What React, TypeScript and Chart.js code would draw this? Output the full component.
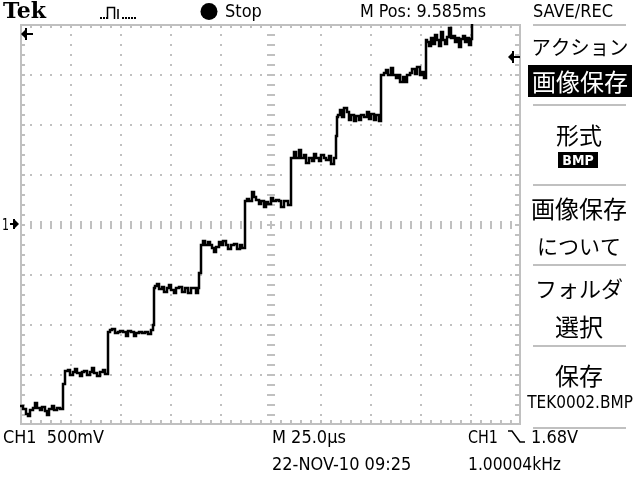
import React, { useEffect, useRef } from "react";
import { Chart, registerables } from "chart.js";

Chart.register(...registerables);

// Oscilloscope settings: 25 µs/div horizontally (10 div), 500 mV/div vertically (8 div)
const X_MIN_US = 0;
const X_MAX_US = 250;
const Y_MIN_V = -2;
const Y_MAX_V = 2;
const MINOR_X_US = 5;
const MINOR_Y_V = 0.1;
const MAJOR_EVERY = 5; // 5 minor ticks per division

// Trace samples [time µs, volts] for each stair step
const step1 = [[0, -1.82], [1.5, -1.85], [3, -1.9], [4, -1.92], [5, -1.86], [6.5, -1.84], [7.5, -1.79], [8.5, -1.84], [10, -1.86], [11, -1.83], [12.5, -1.87], [13.5, -1.91], [14.5, -1.85], [16, -1.82], [17, -1.86], [18.5, -1.84], [20, -1.85], [21.5, -1.6]];
const step2 = [[22.5, -1.47], [24, -1.46], [25, -1.51], [26.5, -1.48], [27.5, -1.45], [28.5, -1.49], [30, -1.52], [31, -1.48], [32, -1.47], [33.5, -1.51], [35, -1.48], [36, -1.44], [37, -1.49], [38.5, -1.52], [40, -1.48], [41.5, -1.46], [42.5, -1.5], [44, -1.08]];
const step3 = [[45, -1.06], [46, -1.05], [47.5, -1.09], [49, -1.08], [50, -1.07], [51.5, -1.08], [53, -1.12], [54, -1.07], [55.5, -1.08], [57, -1.12], [58, -1.09], [59.5, -1.08], [61, -1.09], [62.5, -1.08], [64, -1.1], [65.5, -1.06], [66.5, -1.01], [67, -0.64]];
const step4 = [[67.5, -0.62], [68.5, -0.6], [69.5, -0.65], [71, -0.63], [72, -0.68], [73.5, -0.64], [74.5, -0.61], [75.5, -0.66], [77, -0.69], [78, -0.64], [79.5, -0.63], [81, -0.68], [82.5, -0.64], [84, -0.69], [85.5, -0.64], [86.5, -0.64], [88, -0.69], [89, -0.64], [89.5, -0.49], [90.5, -0.21]];
const step5 = [[91.5, -0.17], [92.5, -0.21], [94, -0.18], [95, -0.21], [96, -0.24], [97, -0.28], [98, -0.23], [99.5, -0.18], [100.5, -0.21], [101.5, -0.17], [103, -0.21], [104, -0.25], [105.5, -0.21], [107, -0.2], [108.5, -0.25], [110, -0.21], [111, -0.24], [112.5, 0.23]];
const step6 = [[113.5, 0.25], [114.5, 0.23], [116, 0.32], [117, 0.27], [118, 0.24], [119.5, 0.2], [120.5, 0.23], [122, 0.17], [123, 0.22], [124, 0.2], [125.5, 0.26], [126.5, 0.23], [128, 0.24], [129.5, 0.23], [130.5, 0.17], [132, 0.23], [133, 0.23], [134, 0.19], [135.5, 0.66]];
const step7 = [[136, 0.66], [137, 0.72], [138, 0.66], [139.5, 0.74], [140.5, 0.66], [142, 0.69], [143, 0.61], [144.5, 0.66], [146, 0.63], [147, 0.7], [148, 0.66], [149.5, 0.63], [150.5, 0.69], [152, 0.66], [153, 0.64], [154.5, 0.68], [155.5, 0.6], [157, 0.66], [158, 0.88], [158.5, 1.07]];
const step8 = [[159, 1.09], [160, 1.14], [161, 1.07], [162, 1.16], [163.5, 1.12], [164.5, 1.04], [165.5, 1.09], [167, 1.03], [168, 1.08], [169.5, 1.04], [170.5, 1.09], [172, 1.07], [173.5, 1.12], [174.5, 1.05], [175.5, 1.1], [177, 1.04], [178, 1.09], [179.5, 1.03], [180.5, 1.49]];
const step9 = [[181, 1.49], [182, 1.51], [183, 1.54], [184, 1.49], [185.5, 1.56], [186.5, 1.49], [188, 1.46], [189, 1.49], [190, 1.42], [191.5, 1.47], [192.5, 1.42], [193.5, 1.49], [195, 1.51], [196, 1.55], [197.5, 1.5], [198.5, 1.57], [200, 1.49], [201, 1.52], [202, 1.46], [203, 1.84]];
const step10 = [[203.5, 1.82], [204.5, 1.78], [205.5, 1.86], [206.5, 1.8], [207.5, 1.89], [208.5, 1.84], [209.5, 1.78], [210.5, 1.92], [211.5, 1.84], [212.5, 1.8], [213.5, 1.87], [214.5, 1.96], [215.5, 1.86], [216.5, 1.88], [217.5, 1.82], [218.5, 1.86], [219.5, 1.77], [220.5, 1.85], [221.5, 1.88], [222.5, 1.82], [223.5, 1.86], [224.5, 1.79], [225.5, 1.85], [226, 2.3]];

// Screen texts
const headerTexts = { logo: "Tek", run: "Stop", pos: "M Pos: 9.585ms", menuTitle: "SAVE/REC" };
const menuTexts = ["アクション", "画像保存", "形式", "BMP", "画像保存", "について", "フォルダ", "選択", "保存", "TEK0002.BMP"];
const footerTexts = { ch: "CH1  500mV", timebase: "M 25.0\u00b5s", trigCh: "CH1", trigLevel: "1.68V", date: "22-NOV-10 09:25", freq: "1.00004kHz" };
const groundLabel = "1";

const GRAY = "#c0c0c0";
const LATIN = "'DejaVu Sans Condensed', 'DejaVu Sans', sans-serif";
const CJK = "'Noto Sans CJK JP', sans-serif";
const SERIF = "'DejaVu Serif', serif";

function txt(ctx: CanvasRenderingContext2D, s: string, x: number, y: number, font: string, maxW?: number, align: CanvasTextAlign = "left", baseline: CanvasTextBaseline = "alphabetic", color = "#000") {
  ctx.save();
  ctx.font = font;
  ctx.textAlign = align;
  ctx.textBaseline = baseline;
  ctx.fillStyle = color;
  if (maxW) ctx.fillText(s, x, y, maxW);
  else ctx.fillText(s, x, y);
  ctx.restore();
}

const graticulePlugin = {
  id: "graticule",
  beforeDraw(chart: any) {
    const ctx = chart.ctx;
    ctx.save();
    ctx.fillStyle = "#fff";
    ctx.fillRect(0, 0, chart.width, chart.height);
    ctx.restore();
  },
  beforeDatasetsDraw(chart: any) {
    const ctx: CanvasRenderingContext2D = chart.ctx;
    const xs = chart.scales.x;
    const ys = chart.scales.y;
    const nx = Math.round((X_MAX_US - X_MIN_US) / MINOR_X_US);
    const ny = Math.round((Y_MAX_V - Y_MIN_V) / MINOR_Y_V);
    const px = (i: number) => Math.round(xs.getPixelForValue(X_MIN_US + i * MINOR_X_US));
    const py = (j: number) => Math.round(ys.getPixelForValue(Y_MAX_V - j * MINOR_Y_V));
    const left = px(0), right = px(nx), top = py(0), bottom = py(ny);
    const cx = px(nx / 2), cy = py(ny / 2);
    ctx.save();
    ctx.fillStyle = GRAY;
    // border
    ctx.fillRect(left, top, right - left + 1, 2);
    ctx.fillRect(left, bottom - 1, right - left + 1, 2);
    ctx.fillRect(left, top, 2, bottom - top + 1);
    ctx.fillRect(right - 1, top, 2, bottom - top + 1);
    // border ticks
    for (let i = 1; i < nx; i++) {
      const x = px(i);
      ctx.fillRect(x, top, 2, 4);
      ctx.fillRect(x, bottom - 4, 2, 4);
    }
    for (let j = 1; j < ny; j++) {
      const y = py(j);
      ctx.fillRect(left, y, 5, 2);
      ctx.fillRect(right - 5, y, 5, 2);
    }
    // dotted major lines
    for (let i = MAJOR_EVERY; i < nx; i += MAJOR_EVERY) {
      if (i === nx / 2) continue;
      const x = px(i);
      for (let j = 1; j < ny; j++) ctx.fillRect(x, py(j), 2, 2);
    }
    for (let j = MAJOR_EVERY; j < ny; j += MAJOR_EVERY) {
      if (j === ny / 2) continue;
      const y = py(j);
      for (let i = 1; i < nx; i++) ctx.fillRect(px(i), y, 2, 2);
    }
    // centre cross with ticks
    for (let j = 1; j < ny; j++) ctx.fillRect(cx - 3, py(j), 8, 2);
    for (let i = 1; i < nx; i++) ctx.fillRect(px(i), cy - 3, 2, 8);
    ctx.restore();
  },
  afterDraw(chart: any) {
    const ctx: CanvasRenderingContext2D = chart.ctx;
    const ys = chart.scales.y;
    ctx.save();
    // ---- header ----
    txt(ctx, headerTexts.logo, 3, 18, `bold 22px ${SERIF}`, 45);
    // trigger type icon
    ctx.strokeStyle = "#000";
    ctx.lineWidth = 1.5;
    ctx.beginPath();
    ctx.moveTo(107.5, 19);
    ctx.lineTo(107.5, 7.5);
    ctx.lineTo(114.5, 7.5);
    ctx.lineTo(114.5, 19);
    ctx.moveTo(118, 9);
    ctx.lineTo(118, 19);
    ctx.stroke();
    ctx.fillStyle = "#000";
    [100, 103, 106, 122, 125, 128, 131, 134].forEach((x) => ctx.fillRect(x, 17, 2, 2));
    // run status dot
    ctx.beginPath();
    ctx.arc(209, 11.5, 8.5, 0, Math.PI * 2);
    ctx.fill();
    txt(ctx, headerTexts.run, 225, 17, `18px ${LATIN}`, 37);
    txt(ctx, headerTexts.pos, 360, 17, `18px ${LATIN}`, 126);
    txt(ctx, headerTexts.menuTitle, 533, 17, `18px ${LATIN}`, 92);

    // ---- markers ----
    const marker = (tipX: number, cyM: number) => {
      ctx.fillStyle = "#000";
      ctx.beginPath();
      ctx.moveTo(tipX, cyM);
      ctx.lineTo(tipX + 5, cyM - 5);
      ctx.lineTo(tipX + 5, cyM + 5);
      ctx.closePath();
      ctx.fill();
      ctx.fillRect(tipX + 4, cyM - 6, 2, 12);
      ctx.fillRect(tipX + 5, cyM - 1, 7, 2);
    };
    marker(21, 34);
    marker(508, 57);
    // ground reference "1" marker
    const gy = Math.round(ys.getPixelForValue(0));
    txt(ctx, groundLabel, 2, gy + 6, `15px ${LATIN}`, 7);
    ctx.fillStyle = "#000";
    ctx.fillRect(10, gy - 1, 7, 2);
    ctx.beginPath();
    ctx.moveTo(19, gy);
    ctx.lineTo(14, gy - 5);
    ctx.lineTo(14, gy + 5);
    ctx.closePath();
    ctx.fill();
    ctx.fillRect(13, gy - 5, 2, 10);

    // ---- right menu ----
    ctx.fillStyle = GRAY;
    [24, 104, 184, 264, 345, 427].forEach((y) => ctx.fillRect(533, y, 93, 2));
    txt(ctx, menuTexts[0], 580, 47, `20px ${CJK}`, 97, "center", "middle");
    ctx.fillStyle = "#000";
    ctx.fillRect(528, 65, 104, 32);
    txt(ctx, menuTexts[1], 580, 82, `24px ${CJK}`, 98, "center", "middle", "#fff");
    txt(ctx, menuTexts[2], 579, 135, `23px ${CJK}`, 48, "center", "middle");
    ctx.fillStyle = "#000";
    ctx.fillRect(558, 152, 40, 16);
    txt(ctx, menuTexts[3], 578, 165, `bold 14px ${LATIN}`, 34, "center", "alphabetic", "#fff");
    txt(ctx, menuTexts[4], 579, 209, `24px ${CJK}`, 99, "center", "middle");
    txt(ctx, menuTexts[5], 579, 246, `21px ${CJK}`, 86, "center", "middle");
    txt(ctx, menuTexts[6], 579, 289, `22px ${CJK}`, 88, "center", "middle");
    txt(ctx, menuTexts[7], 579, 327, `24px ${CJK}`, 52, "center", "middle");
    txt(ctx, menuTexts[8], 579, 376, `24px ${CJK}`, 52, "center", "middle");
    txt(ctx, menuTexts[9], 580, 408, `17px ${LATIN}`, 110, "center");

    // ---- footer ----
    txt(ctx, footerTexts.ch, 3, 443, `18px ${LATIN}`, 101);
    txt(ctx, footerTexts.timebase, 272, 443, `18px ${LATIN}`, 80);
    txt(ctx, footerTexts.trigCh, 468, 443, `18px ${LATIN}`, 30);
    // falling slope icon
    ctx.strokeStyle = "#000";
    ctx.lineWidth = 1.5;
    ctx.beginPath();
    ctx.moveTo(508, 431);
    ctx.lineTo(512, 431);
    ctx.lineTo(520, 442);
    ctx.lineTo(525, 442);
    ctx.stroke();
    txt(ctx, footerTexts.trigLevel, 531, 443, `18px ${LATIN}`, 48);
    txt(ctx, footerTexts.date, 272, 470, `18px ${LATIN}`, 151);
    txt(ctx, footerTexts.freq, 468, 470, `18px ${LATIN}`, 93);
    ctx.restore();
  },
};

export default function App() {
  const ref = useRef<HTMLCanvasElement | null>(null);
  useEffect(() => {
    if (!ref.current) return;
    const points = [...step1, ...step2, ...step3, ...step4, ...step5, ...step6, ...step7, ...step8, ...step9, ...step10].map(([x, y]) => ({ x, y }));
    const chart = new Chart(ref.current, {
      type: "line",
      data: {
        datasets: [
          {
            data: points,
            borderColor: "#000",
            borderWidth: 2.5,
            pointRadius: 0,
            stepped: true,
            fill: false,
            borderJoinStyle: "miter",
            borderCapStyle: "butt",
          },
        ],
      },
      options: {
        animation: false,
        responsive: false,
        devicePixelRatio: 1,
        layout: { padding: { left: 20, right: 120, top: 24, bottom: 56 } },
        plugins: { legend: { display: false }, tooltip: { enabled: false } },
        scales: {
          x: { type: "linear", min: X_MIN_US, max: X_MAX_US, display: false },
          y: { type: "linear", min: Y_MIN_V, max: Y_MAX_V, display: false },
        },
      },
      plugins: [graticulePlugin],
    });
    return () => chart.destroy();
  }, []);
  return (
    <div style={{ position: "fixed", left: 0, top: 0, width: 640, height: 480, background: "#fff" }}>
      <canvas ref={ref} width={640} height={480} style={{ display: "block", width: 640, height: 480 }} />
    </div>
  );
}
